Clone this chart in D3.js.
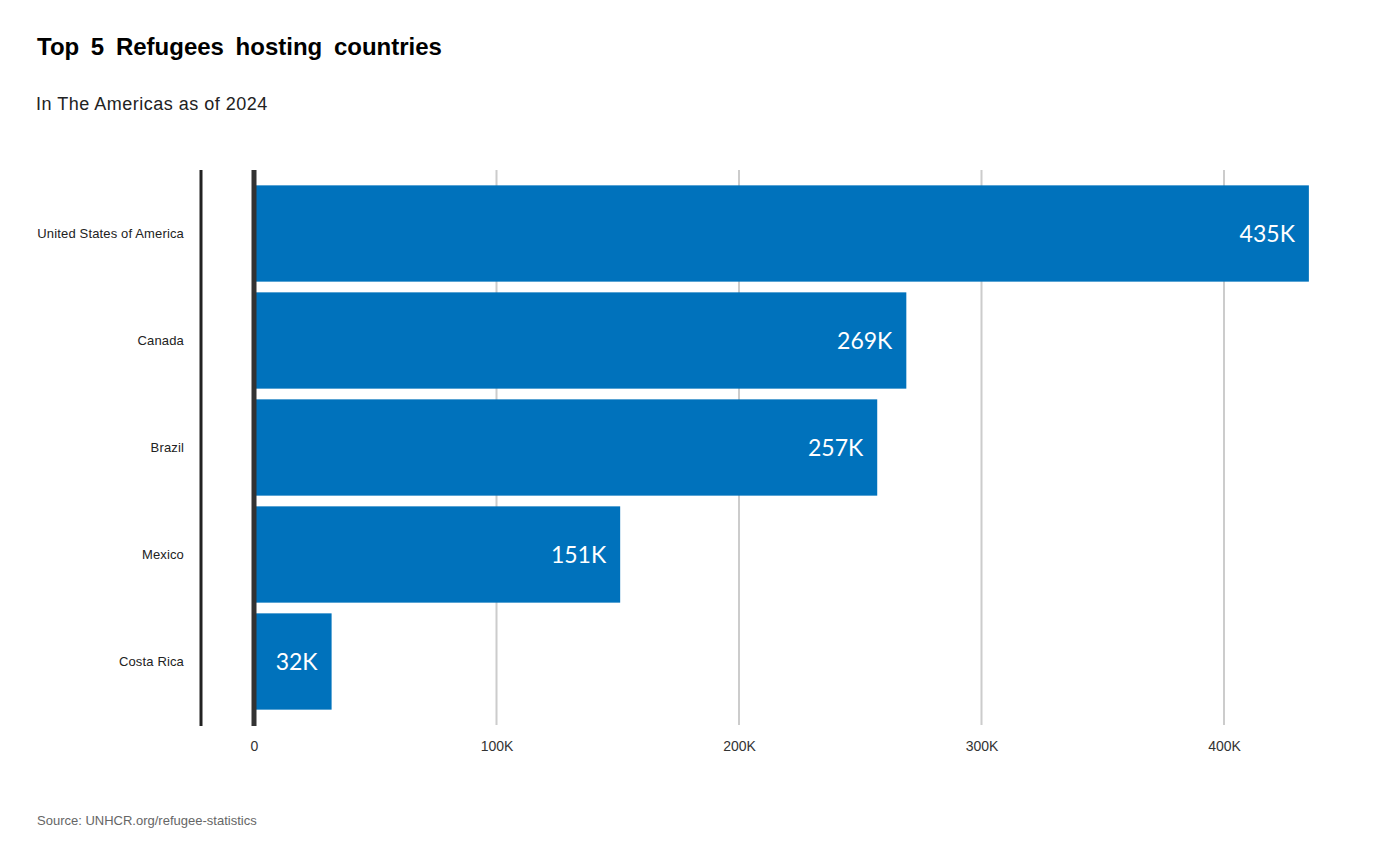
<!DOCTYPE html>
<html>
<head>
<meta charset="utf-8">
<script src="https://cdn.jsdelivr.net/npm/d3@7"></script>
<style>
  body { margin: 0; background: #fff; }
  svg { display: block; }
</style>
</head>
<body>
<svg id="chart" width="1400" height="865"></svg>
<script>
const countries = ["United States of America", "Canada", "Brazil", "Mexico", "Costa Rica"];
const refugees = [435000, 269000, 257000, 151000, 32000];
const tickValues = [0, 100000, 200000, 300000, 400000];
const tickLabels = ["0", "100K", "200K", "300K", "400K"];

const data = countries.map((c, i) => ({ country: c, value: refugees[i] }));

const svg = d3.select("#chart");
const font = "'Liberation Sans', Arial, sans-serif";

const x = d3.scaleLinear().domain([0, 400000]).range([254, 1224]);
const y = d3.scaleBand()
   .domain(countries)
   .range([180, 715])
   .paddingInner(0.1)
   .paddingOuter(0.05);

// title block
svg.append("text")
   .attr("x", 37).attr("y", 55)
   .attr("font-family", font).attr("font-size", 24).attr("font-weight", "bold")
   .attr("word-spacing", 5)
   .attr("fill", "#000")
   .text("Top 5 Refugees hosting countries");

svg.append("text")
   .attr("x", 36).attr("y", 110)
   .attr("font-family", font).attr("font-size", 18)
   .attr("letter-spacing", 0.5)
   .attr("fill", "#222")
   .text("In The Americas as of 2024");

// vertical grid
svg.append("g")
   .selectAll("line")
   .data(tickValues.slice(1))
   .join("line")
   .attr("x1", (d) => x(d)).attr("x2", (d) => x(d))
   .attr("y1", 170).attr("y2", 725)
   .attr("stroke", "#cccccc").attr("stroke-width", 2);

// x tick labels
const xAxis = svg.append("g")
   .attr("transform", "translate(0, 725)")
   .call(d3.axisBottom(x).tickValues(tickValues).tickFormat((d, i) => tickLabels[i]).tickSize(0).tickPadding(16));
xAxis.select(".domain").remove();
xAxis.selectAll("text")
   .attr("font-family", font).attr("font-size", 14).attr("fill", "#333");

// bars
svg.append("g")
   .selectAll("rect")
   .data(data)
   .join("rect")
   .attr("x", x(0))
   .attr("y", (d) => y(d.country))
   .attr("width", (d) => x(d.value) - x(0))
   .attr("height", y.bandwidth())
   .attr("fill", "#0072BC");

// value labels
svg.append("g")
   .selectAll("text")
   .data(data)
   .join("text")
   .attr("x", (d) => x(d.value) - 14)
   .attr("y", (d) => y(d.country) + y.bandwidth() / 2)
   .attr("dy", "0.36em")
   .attr("text-anchor", "end")
   .attr("font-family", "Lato, sans-serif").attr("font-size", 23)
   .attr("fill", "#fff")
   .text((d) => Math.round(d.value / 1000) + "K");

// zero baseline
svg.append("line")
   .attr("x1", x(0)).attr("x2", x(0))
   .attr("y1", 170).attr("y2", 726)
   .attr("stroke", "#333").attr("stroke-width", 5);

// y axis
const yAxis = svg.append("g")
   .attr("transform", "translate(201, 0)")
   .call(d3.axisLeft(y).tickSize(0).tickPadding(17));
yAxis.select(".domain")
   .attr("d", "M0,170V726")
   .attr("stroke", "#222").attr("stroke-width", 3);
yAxis.selectAll("text")
   .attr("font-family", font).attr("font-size", 13).attr("letter-spacing", 0.15).attr("fill", "#222");

// source
svg.append("text")
   .attr("x", 37).attr("y", 825)
   .attr("font-family", font).attr("font-size", 13)
   .attr("fill", "#666")
   .text("Source: UNHCR.org/refugee-statistics");
</script>
</body>
</html>
